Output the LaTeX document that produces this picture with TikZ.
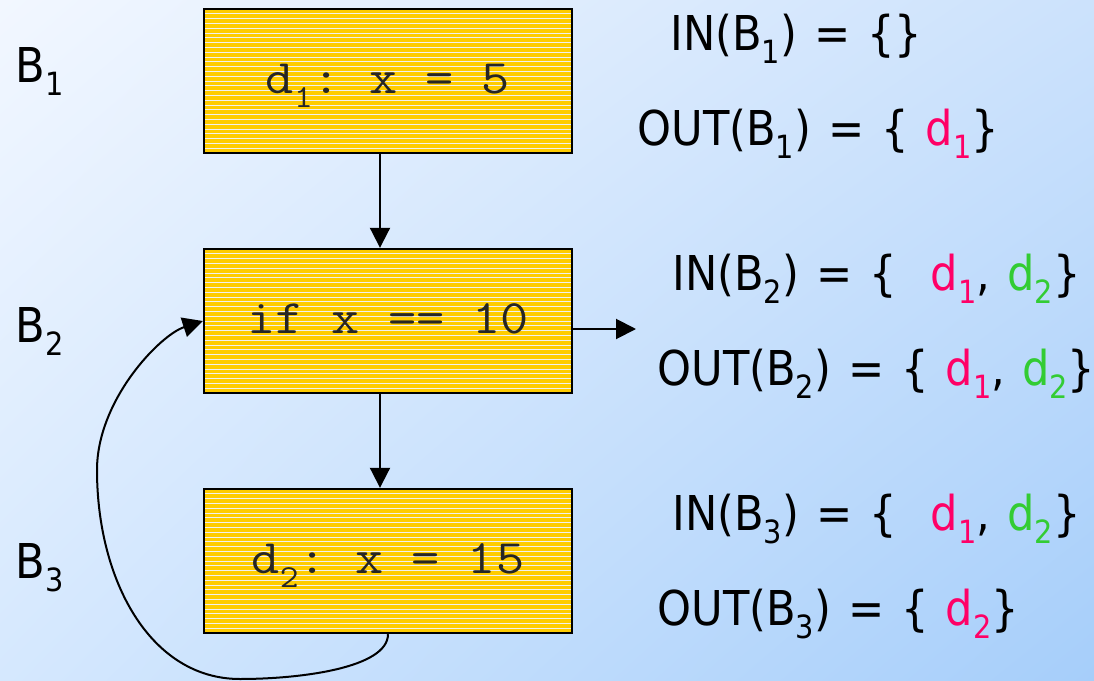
\documentclass[tikz,border=0pt]{standalone}
\usepackage{fontspec}
\setmainfont{DejaVu Sans}[FakeStretch=0.9]
\setmonofont{Latin Modern Mono}[FakeStretch=1.14]
\usetikzlibrary{positioning,arrows.meta,shadings}

\definecolor{bgtl}{RGB}{242,247,255}
\definecolor{bgtr}{RGB}{204,226,252}
\definecolor{bgbl}{RGB}{213,232,254}
\definecolor{bgbr}{RGB}{166,206,250}
\definecolor{gold}{RGB}{255,204,0}
\definecolor{defpink}{RGB}{255,0,102}
\definecolor{defgreen}{RGB}{51,204,51}

\newcommand{\lblfont}{\fontsize{24}{28}\selectfont\setlength{\spaceskip}{8.5pt}}
\newcommand{\lsub}[1]{\raisebox{-6.5pt}{\fontsize{16}{16}\selectfont #1}}
\newcommand{\csub}[1]{\raisebox{-7pt}{\fontsize{16}{16}\selectfont #1}}
\newcommand{\dpk}[1]{\textcolor{defpink}{d\lsub{#1}}}
\newcommand{\dgr}[1]{\textcolor{defgreen}{d\lsub{#1}}}

\begin{document}
\begin{tikzpicture}[
  x=0.5pt, y=-0.5pt, >={Triangle[length=10pt,width=10pt]}, node distance=46.8pt,
  stripe/.style={draw=white!88!gray, line width=0.5pt},
  block/.style={draw, line width=1.2pt, fill=gold, minimum width=184pt, minimum height=72pt, inner sep=0pt,
    text height=14pt, text depth=2pt, text=black!85, font=\ttfamily\fontsize{24}{28}\selectfont,
    path picture={\foreach \k in {1,...,29}
      \draw[stripe] ([yshift=-\k*2.4pt]path picture bounding box.north west) -- ([yshift=-\k*2.4pt]path picture bounding box.north east);}},
  lbl/.style={anchor=base west, inner sep=0pt, font=\lblfont},
  edge/.style={line width=1pt}
]
  \shade[upper left=bgtl, upper right=bgtr, lower left=bgbl, lower right=bgbr] (0,0) rectangle (1094,681);
  \useasboundingbox (0,0) rectangle (1094,681);

  \node[block] (b1) at (388,81) {d\csub{1}: x = 5};
  \node[block, below=of b1] (b2) {if x == 10};
  \node[block, below=of b2] (b3) {d\csub{2}: x = 15};

  \node[lbl] (lb1) at (15,82) {B\lsub{1}};
  \node[lbl] (lb2) at (15,342) {B\lsub{2}};
  \node[lbl] (lb3) at (15,578) {B\lsub{3}};

  \node[lbl] (in1) at (670,50) {IN(B\lsub{1}) = \{\}};
  \node[lbl] (out1) at (637,145) {OUT(B\lsub{1}) = \{ \dpk{1}\}};
  \node[lbl] (in2) at (672,290) {IN(B\lsub{2}) = \{~~\dpk{1}, \dgr{2}\}};
  \node[lbl] (out2) at (657,385) {OUT(B\lsub{2}) = \{ \dpk{1}, \dgr{2}\}};
  \node[lbl] (in3) at (672,530) {IN(B\lsub{3}) = \{~~\dpk{1}, \dgr{2}\}};
  \node[lbl] (out3) at (657,625) {OUT(B\lsub{3}) = \{ \dpk{2}\}};

  \coordinate (exit) at (636,329);
  \draw[->, edge] ([xshift=-4pt]b1.south) -- ([xshift=-4pt]b2.north);
  \draw[->, edge] ([xshift=-4pt]b2.south) -- ([xshift=-4pt]b3.north);
  \draw[->, edge] (b2.east |- exit) -- (exit);
  \draw[->, edge] (b3.south) .. controls (388,668) and (300,679) .. (240,679)
    .. controls (150,679) and (97,580) .. (97,470)
    .. controls (97,400) and (160,335) .. (b2.west);
\end{tikzpicture}
\end{document}
